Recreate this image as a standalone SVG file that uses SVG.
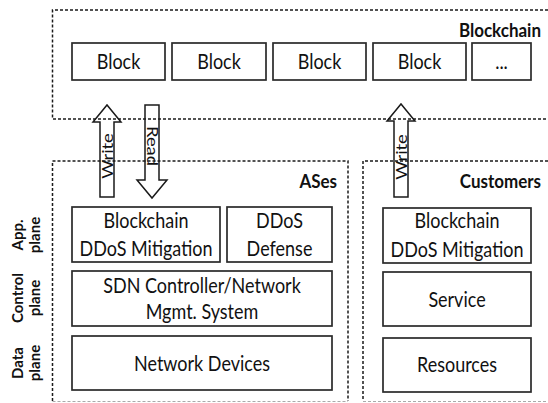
<svg xmlns="http://www.w3.org/2000/svg" width="548" height="403" viewBox="0 0 548 403">
<style>
.bg{fill:#fff}
.box{fill:#fff;stroke:#2a2a2a;stroke-width:1.7}
.dash{fill:none;stroke:#1a1a1a;stroke-width:1.5;stroke-dasharray:3 2}
.dashl{fill:none;stroke:#aaa;stroke-width:1;stroke-dasharray:3 2}
.arrow{fill:#fff;stroke:#1a1a1a;stroke-width:1.5;stroke-linejoin:miter}
text{font-family:Lato,"Liberation Sans",sans-serif;fill:#111;text-anchor:middle}
.t{font-size:18px}
.b{font-size:17px;font-weight:bold;text-anchor:end}
.p{font-size:15px;font-weight:bold}
.a{font-size:16px}
</style>
<rect class="bg" x="0" y="0" width="548" height="403"/>
<g id="connectors">
  <g id="write-ases">
    <path class="arrow" d="M100 197 V122 H93 L107 105 L121 122 H114 V197 Z"/>
    <text class="a" transform="translate(112.5,156) scale(1,1.15) rotate(-90)">Write</text>
  </g>
  <g id="read-ases">
    <path class="arrow" d="M145 105 H159 V180 H167 L152 198 L137 180 H145 Z"/>
    <text class="a" transform="translate(146.5,146) scale(1,1.15) rotate(90)">Read</text>
  </g>
  <g id="write-customers">
    <path class="arrow" d="M394 197 V121 H387 L401 104 L415 121 H408 V197 Z"/>
    <text class="a" transform="translate(406.5,157) scale(1,1.15) rotate(-90)">Write</text>
  </g>
</g>
<g id="blockchain">
  <path class="dash" d="M548 10 H52.5 V119 H548"/>
  <text class="b" transform="translate(541,37) scale(1,1.15)">Blockchain</text>
  <g id="block1"><rect class="box" x="72" y="43" width="93" height="37"/><text class="t" transform="translate(118.5,68.5) scale(1,1.15)">Block</text></g>
  <g id="block2"><rect class="box" x="172" y="43" width="94" height="37"/><text class="t" transform="translate(219,68.5) scale(1,1.15)">Block</text></g>
  <g id="block3"><rect class="box" x="273" y="43" width="93" height="37"/><text class="t" transform="translate(319.5,68.5) scale(1,1.15)">Block</text></g>
  <g id="block4"><rect class="box" x="373" y="43" width="93" height="37"/><text class="t" transform="translate(419.5,68.5) scale(1,1.15)">Block</text></g>
  <g id="block5"><rect class="box" x="472" y="43" width="59" height="37"/><text class="t" transform="translate(501.5,68.5) scale(1,1.15)">...</text></g>
</g>
<g id="ases">
  <path class="dash" d="M52.5 401 V161 H348 V401"/>
  <path class="dashl" d="M52.5 401.5 H348"/>
  <text class="b" transform="translate(337,188) scale(1,1.15)">ASes</text>
  <g id="ases-mitigation"><rect class="box" x="72" y="207" width="148" height="55"/>
    <text class="t" transform="translate(146,227.5) scale(1,1.15)">Blockchain</text>
    <text class="t" transform="translate(146,256) scale(1,1.15)">DDoS Mitigation</text></g>
  <g id="ddos-defense"><rect class="box" x="227" y="207" width="105" height="55"/>
    <text class="t" transform="translate(279.5,227.5) scale(1,1.15)">DDoS</text>
    <text class="t" transform="translate(279.5,256) scale(1,1.15)">Defense</text></g>
  <g id="sdn-controller"><rect class="box" x="72" y="271" width="260" height="55"/>
    <text class="t" transform="translate(202,293) scale(1,1.15)">SDN Controller/Network</text>
    <text class="t" transform="translate(202,318.5) scale(1,1.15)">Mgmt. System</text></g>
  <g id="network-devices"><rect class="box" x="72" y="336" width="260" height="54"/>
    <text class="t" transform="translate(202,370.5) scale(1,1.15)">Network Devices</text></g>
</g>
<g id="customers">
  <path class="dash" d="M548 161 H363 V401"/>
  <path class="dashl" d="M363 401.5 H548"/>
  <text class="b" transform="translate(541,188) scale(1,1.15)">Customers</text>
  <g id="cust-mitigation"><rect class="box" x="383" y="208" width="148" height="55"/>
    <text class="t" transform="translate(457,228) scale(1,1.15)">Blockchain</text>
    <text class="t" transform="translate(457,256.5) scale(1,1.15)">DDoS Mitigation</text></g>
  <g id="service"><rect class="box" x="383" y="272" width="148" height="54"/>
    <text class="t" transform="translate(457,306.5) scale(1,1.15)">Service</text></g>
  <g id="resources"><rect class="box" x="383" y="338" width="148" height="54"/>
    <text class="t" transform="translate(457,371.5) scale(1,1.15)">Resources</text></g>
</g>
<g id="plane-labels">
  <g id="app-plane">
    <text class="p" transform="translate(23,235) rotate(-90)">App.</text>
    <text class="p" transform="translate(40,235) rotate(-90)">plane</text>
  </g>
  <g id="control-plane">
    <text class="p" transform="translate(23,298) rotate(-90)">Control</text>
    <text class="p" transform="translate(40,298) rotate(-90)">plane</text>
  </g>
  <g id="data-plane">
    <text class="p" transform="translate(23,363) rotate(-90)">Data</text>
    <text class="p" transform="translate(40,363) rotate(-90)">plane</text>
  </g>
</g>
</svg>
